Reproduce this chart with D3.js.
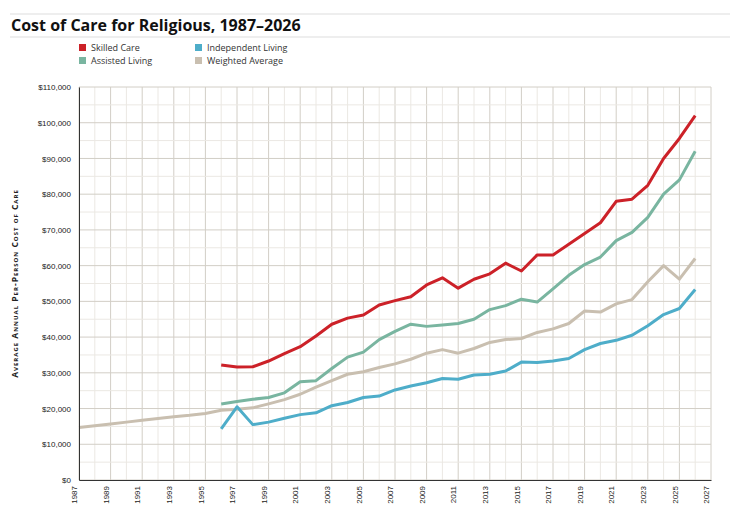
<!DOCTYPE html>
<html>
<head>
<meta charset="utf-8">
<script src="https://cdn.jsdelivr.net/npm/d3@7"></script>
<style>
  body { margin: 0; background: #fff; font-family: "Open Sans", sans-serif; }
</style>
</head>
<body>
<script>
const years = d3.range(1987, 2027);
const yearsLater = d3.range(1996, 2027);
const weighted = [14.7, 15.2, 15.7, 16.2, 16.7, 17.2, 17.7, 18.1, 18.6, 19.5, 19.8, 20.2, 21.3, 22.5, 24, 26, 27.8, 29.6, 30.3, 31.5, 32.5, 33.8, 35.5, 36.5, 35.5, 36.8, 38.5, 39.3, 39.6, 41.3, 42.3, 43.8, 47.3, 47, 49.3, 50.5, 55.5, 60, 56.2, 62];
const skilled = [32.2, 31.6, 31.7, 33.3, 35.4, 37.3, 40.3, 43.6, 45.3, 46.2, 49, 50.2, 51.3, 54.6, 56.6, 53.7, 56.2, 57.7, 60.7, 58.5, 63, 63, 66, 69, 72, 78, 78.6, 82.5, 90, 95.6, 102];
const assisted = [21.3, 22, 22.6, 23.1, 24.4, 27.5, 27.8, 31.2, 34.4, 35.8, 39.3, 41.6, 43.6, 43, 43.4, 43.8, 45, 47.7, 48.8, 50.6, 49.8, 53.5, 57.3, 60.3, 62.4, 67, 69.3, 73.5, 80, 84, 92];
const independent = [14.3, 20.5, 15.5, 16.2, 17.3, 18.3, 18.8, 20.8, 21.7, 23.1, 23.5, 25.2, 26.3, 27.2, 28.4, 28.2, 29.4, 29.6, 30.5, 33, 32.9, 33.3, 34, 36.5, 38.2, 39.1, 40.5, 43.2, 46.3, 48, 53.3];

const series = [
  {name: "Weighted Average", color: "#c9bfb0", x: years, v: weighted},
  {name: "Independent Living", color: "#4eadc9", x: yearsLater, v: independent},
  {name: "Assisted Living", color: "#79b5a0", x: yearsLater, v: assisted},
  {name: "Skilled Care", color: "#cc2128", x: yearsLater, v: skilled}
];
const legendOrder = ["Skilled Care", "Independent Living", "Assisted Living", "Weighted Average"];

const W = 740, H = 514;
const margin = {top: 87, right: 29, bottom: 34, left: 79};
const width = W - margin.left - margin.right,
  height = H - margin.top - margin.bottom;

const svg = d3.select("body").append("svg").attr("width", W).attr("height", H);

svg.append("line").attr("x1", 10).attr("x2", 730).attr("y1", 14).attr("y2", 14).attr("stroke", "#ddd");
svg.append("line").attr("x1", 10).attr("x2", 730).attr("y1", 37).attr("y2", 37).attr("stroke", "#ddd");
svg.append("text").attr("x", 11).attr("y", 31)
  .style("font-size", "16px").style("font-weight", "bold").attr("fill", "#111")
  .text("Cost of Care for Religious, 1987\u20132026");

const leg = svg.append("g").attr("transform", "translate(79,44)");
legendOrder.forEach((n, i) => {
  const s = series.find(d => d.name === n);
  const g = leg.append("g").attr("transform", `translate(${(i % 2) * 116},${Math.floor(i / 2) * 13})`);
  g.append("rect").attr("width", 7).attr("height", 7).attr("fill", s.color);
  g.append("text").attr("x", 12).attr("y", 7).style("font-size", "9px").attr("fill", "#333").text(n);
});

const x = d3.scaleLinear().domain([1987, 2027]).range([0, width]);
const y = d3.scaleLinear().domain([0, 110]).range([height, 0]);

const chart = svg.append("g").attr("transform", `translate(${margin.left},${margin.top})`);

chart.append("g").selectAll("line").data(d3.range(1987, 2028))
  .enter().append("line")
  .attr("x1", d => x(d)).attr("x2", d => x(d)).attr("y1", 0).attr("y2", height)
  .attr("stroke", d => (d - 1987) % 2 === 0 ? "#d2cec6" : "#ebe8e3");
chart.append("g").selectAll("line").data(d3.range(0, 111, 5))
  .enter().append("line")
  .attr("x1", 0).attr("x2", width).attr("y1", d => y(d)).attr("y2", d => y(d))
  .attr("stroke", d => d % 10 === 0 ? "#d2cec6" : "#ebe8e3");

const line = d3.line().x(d => x(d[0])).y(d => y(d[1]));
series.forEach(s => {
  chart.append("path").datum(s.x.map((yr, i) => [yr, s.v[i]]))
    .attr("fill", "none").attr("stroke", s.color).attr("stroke-width", 3)
    .attr("stroke-linejoin", "round").attr("d", line);
});

const yAxis = chart.append("g").call(d3.axisLeft(y).tickValues(d3.range(0, 111, 10))
  .tickFormat(d => "$" + d3.format(",")(d * 1000)).tickSize(0).tickPadding(8));
yAxis.select(".domain").attr("stroke", "#333");
yAxis.selectAll("text").style("font-size", "8px").attr("fill", "#222");

const xAxis = chart.append("g").attr("transform", `translate(0,${height})`)
  .call(d3.axisBottom(x).tickValues(d3.range(1987, 2028, 2)).tickFormat(d3.format("d")).tickSize(0).tickPadding(6));
xAxis.select(".domain").attr("stroke", "#333");
xAxis.selectAll("text").style("font-size", "8px").attr("fill", "#222")
  .attr("transform", "rotate(-90)").attr("text-anchor", "end").attr("dx", "-6").attr("dy", "-0.3em").attr("x", 0).attr("y", 0);

svg.append("text").attr("transform", `translate(18,${margin.top + height / 2}) rotate(-90)`)
  .attr("text-anchor", "middle").style("font-size", "8.5px").style("font-weight", "bold")
  .style("letter-spacing", "1px").style("font-variant", "small-caps").attr("fill", "#222")
  .text("Average Annual Per-Person Cost of Care");
</script>
</body>
</html>
